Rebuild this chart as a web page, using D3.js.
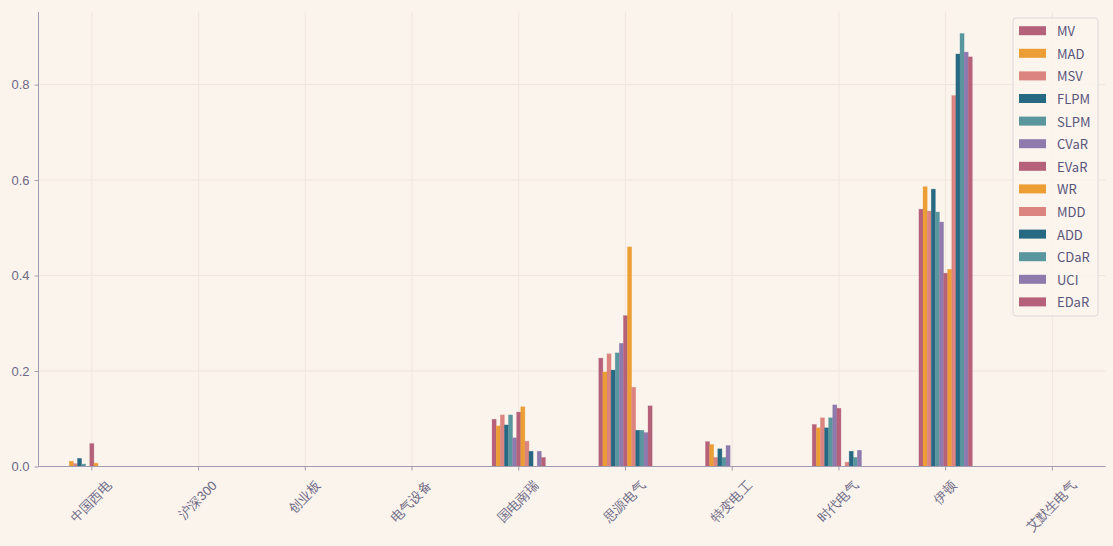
<!DOCTYPE html>
<html lang="zh">
<head>
<meta charset="utf-8">
<title>portfolio weights by risk measure</title>
<style>
body { margin: 0; background: #faf4ed; }
svg { display: block; font-family: "Noto Sans CJK SC", "Noto Sans", sans-serif; }
.grid line { stroke: #f0e6dc; stroke-width: 1; }
.axis path, .axis line { stroke: #a09bb0; }
.axis text { fill: #6e6985; font-size: 13px; }
.legend text { fill: #59547a; font-size: 13px; }
</style>
</head>
<body>
<svg width="1113" height="546"></svg>
<script src="https://cdn.jsdelivr.net/npm/d3@7"></script>
<script>
// assets on the x axis
const assets = ["中国西电", "沪深300", "创业板", "电气设备", "国电南瑞", "思源电气", "特变电工", "时代电气", "伊顿", "艾默生电气"];
const measures = ["MV", "MAD", "MSV", "FLPM", "SLPM", "CVaR", "EVaR", "WR", "MDD", "ADD", "CDaR", "UCI", "EDaR"];
const colors = ["#b5617a", "#ec9e34", "#dc847f", "#276882", "#5a969e", "#8e7aad",
                "#b5617a", "#ec9e34", "#dc847f", "#276882", "#5a969e", "#8e7aad", "#b5617a"];
const yTicks = [0, 0.2, 0.4, 0.6, 0.8];

// weights, one array per risk measure, in asset order
const MV   = [0,     0, 0, 0, 0.099, 0.227, 0.052, 0.088, 0.539, 0];
const MAD  = [0.011, 0, 0, 0, 0.085, 0.198, 0.046, 0.081, 0.586, 0];
const MSV  = [0.006, 0, 0, 0, 0.108, 0.236, 0.019, 0.102, 0.535, 0];
const FLPM = [0.017, 0, 0, 0, 0.087, 0.202, 0.037, 0.081, 0.581, 0];
const SLPM = [0.005, 0, 0, 0, 0.108, 0.238, 0.019, 0.102, 0.533, 0];
const CVaR = [0,     0, 0, 0, 0.060, 0.258, 0.044, 0.129, 0.512, 0];
const EVaR = [0.048, 0, 0, 0, 0.114, 0.316, 0,     0.122, 0.405, 0];
const WR   = [0.007, 0, 0, 0, 0.125, 0.460, 0,     0,     0.413, 0];
const MDD  = [0,     0, 0, 0, 0.053, 0.166, 0,     0.009, 0.777, 0];
const ADD  = [0,     0, 0, 0, 0.032, 0.076, 0,     0.032, 0.864, 0];
const CDaR = [0,     0, 0, 0, 0,     0.076, 0,     0.019, 0.907, 0];
const UCI  = [0,     0, 0, 0, 0.032, 0.071, 0,     0.034, 0.868, 0];
const EDaR = [0,     0, 0, 0, 0.019, 0.127, 0,     0,     0.858, 0];

const series = [MV, MAD, MSV, FLPM, SLPM, CVaR, EVaR, WR, MDD, ADD, CDaR, UCI, EDaR];

let plotLeft = 38.5, plotRight = 1105.7, plotTop = 12, plotBottom = 466.5;

let svg = d3.select("svg");

let x = d3.scaleBand().domain(assets).range([plotLeft, plotRight]).padding(0);
let inner = d3.scaleBand().domain(measures)
    .range([x.bandwidth() * 0.25, x.bandwidth() * 0.75]);
let y = d3.scaleLinear().domain([0, 0.952]).range([plotBottom, plotTop]);

// grid
let grid = svg.append("g").attr("class", "grid");
grid.selectAll(".v").data(assets).enter().append("line")
    .attr("x1", d => x(d) + x.bandwidth() / 2).attr("x2", d => x(d) + x.bandwidth() / 2)
    .attr("y1", plotTop).attr("y2", plotBottom);
grid.selectAll(".h").data(yTicks.slice(1)).enter().append("line")
    .attr("x1", plotLeft).attr("x2", plotRight)
    .attr("y1", d => y(d)).attr("y2", d => y(d));

// bars
let rows = [];
series.forEach((vals, i) => {
  vals.forEach((v, j) => rows.push({m: measures[i], a: assets[j], v: v, c: colors[i]}));
});

svg.append("g").selectAll("rect")
    .data(rows.filter(d => d.v > 0))
  .enter().append("rect")
    .attr("x", d => x(d.a) + inner(d.m))
    .attr("width", inner.bandwidth())
    .attr("y", d => y(d.v))
    .attr("height", d => plotBottom - y(d.v))
    .attr("fill", d => d.c)
    .attr("stroke", d => d.c)
    .attr("stroke-opacity", 0.5)
    .attr("stroke-width", 0.6);

// y axis
let yAxis = svg.append("g").attr("class", "axis")
    .attr("transform", "translate(" + plotLeft + ",0)")
    .call(d3.axisLeft(y).tickValues(yTicks).tickFormat(d3.format(".1f")).tickSize(4).tickSizeOuter(0));
yAxis.select(".domain").attr("d", "M0," + plotTop + "V" + plotBottom);
yAxis.selectAll("text").attr("x", -9);

// x axis
let xAxis = svg.append("g").attr("class", "axis")
    .attr("transform", "translate(0," + plotBottom + ")")
    .call(d3.axisBottom(x).tickSize(4).tickSizeOuter(0));
xAxis.select(".domain").attr("d", "M" + plotLeft + ",0H" + plotRight);
xAxis.selectAll("text").each(function(d) {
  let t = d3.select(this);
  t.attr("y", 0).attr("dy", null)
   .attr("text-anchor", "middle")
   .attr("dominant-baseline", "central");
  let w = this.getComputedTextLength();
  let h = 13;
  let cy = 12 + (w + h) / (2 * Math.SQRT2);
  t.attr("transform", "translate(-1," + cy + ") rotate(-45)");
});

// legend
let lg = svg.append("g").attr("class", "legend");
lg.append("rect")
    .attr("x", 1013).attr("y", 18).attr("width", 85).attr("height", 298)
    .attr("rx", 3).attr("fill", "#faf4ed").attr("fill-opacity", 0.85)
    .attr("stroke", "#dcd8d8");
let item = lg.selectAll(".item").data(measures).enter().append("g")
    .attr("transform", (d, i) => "translate(1019," + (30.7 + i * 22.6) + ")");
item.append("rect")
    .attr("x", 0).attr("y", -4.5).attr("width", 27).attr("height", 9)
    .attr("fill", (d, i) => colors[i]);
item.append("text")
    .attr("x", 38).attr("y", 0).attr("dominant-baseline", "central")
    .text(d => d);
</script>
</body>
</html>
